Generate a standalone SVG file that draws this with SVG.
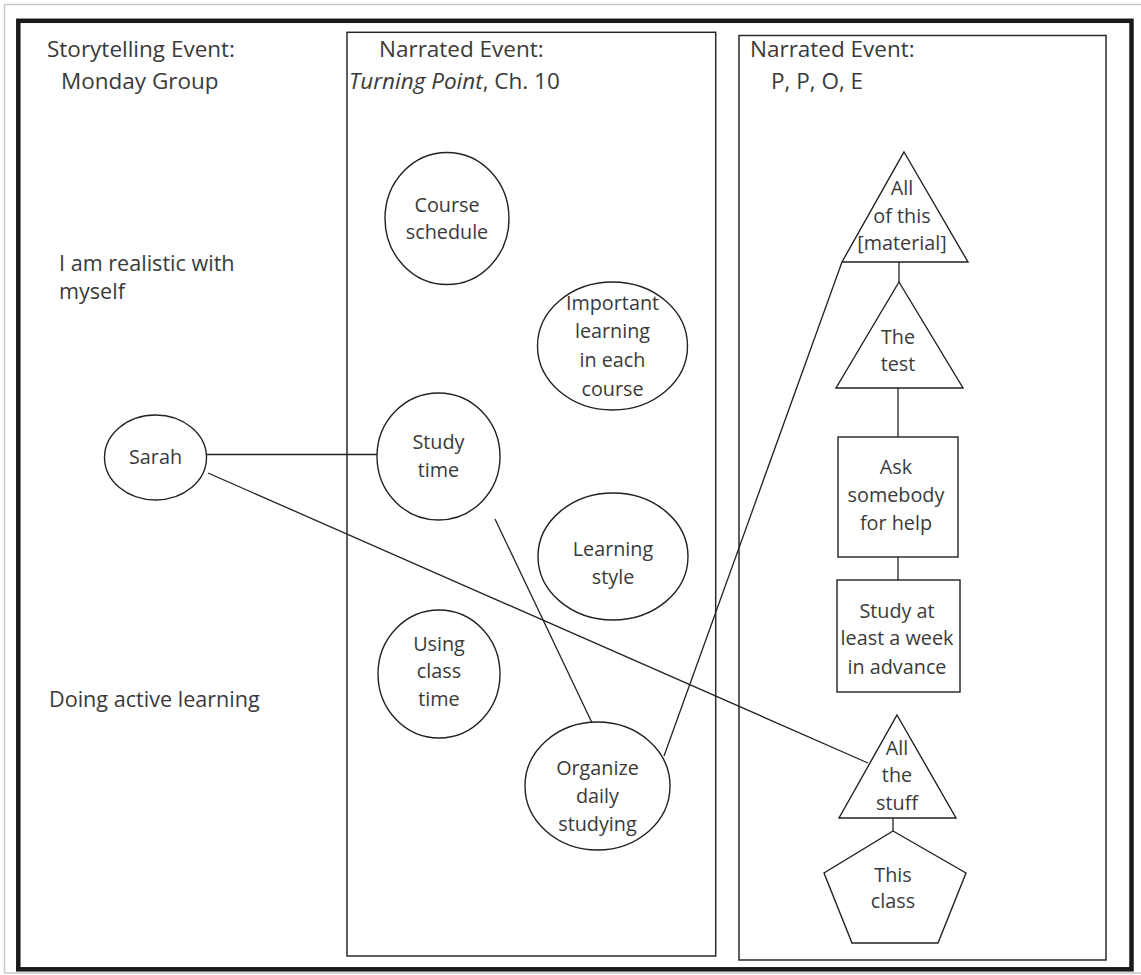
<svg xmlns="http://www.w3.org/2000/svg" width="1141" height="975" viewBox="0 0 1141 975">
  <style>
    .frame { fill: none; stroke: #1a1a1a; stroke-width: 4.5; }
    .outer { fill: none; stroke: #c8c8c8; stroke-width: 1.5; }
    .panel { fill: none; stroke: #2a2a2a; stroke-width: 1.5; }
    .shape { fill: #ffffff; stroke: #222222; stroke-width: 1.4; }
    .link { fill: none; stroke: #222222; stroke-width: 1.3; }
    .title { font-family: "Open Sans", "Noto Sans", sans-serif; font-size: 22.5px; fill: #3a3a3a; }
    .label { font-family: "Open Sans", "Noto Sans", sans-serif; font-size: 19.8px; fill: #3a3a3a; text-anchor: middle; }
    .note { font-family: "Open Sans", "Noto Sans", sans-serif; font-size: 21.6px; fill: #3a3a3a; }
  </style>

  <rect width="1141" height="975" fill="#ffffff"/>
  <rect class="outer" x="4.5" y="4.5" width="1150" height="968.5"/>
  <rect class="frame" x="18.3" y="20.8" width="1113.2" height="948.5"/>

  <!-- panels -->
  <g id="panel-storytelling">
    <text class="title" x="47" y="57">Storytelling Event:</text>
    <text class="title" x="61" y="89">Monday Group</text>
    <text class="note" x="59" y="271">I am realistic with</text>
    <text class="note" x="59" y="299">myself</text>
    <text class="note" x="49" y="707">Doing active learning</text>
  </g>
  <g id="panel-turning-point">
    <rect class="panel" x="347" y="32.3" width="368.7" height="923.7"/>
    <text class="title" x="379" y="57">Narrated Event:</text>
    <text class="title" x="349" y="89"><tspan font-style="italic">Turning Point</tspan>, Ch. 10</text>
  </g>
  <g id="panel-ppoe">
    <rect class="panel" x="739" y="35.5" width="367" height="924.5"/>
    <text class="title" x="750" y="57">Narrated Event:</text>
    <text class="title" x="771" y="89">P, P, O, E</text>
  </g>

  <!-- connectors -->
  <g id="connectors">
    <line class="link" x1="206" y1="454.5" x2="377" y2="454.5"/>
    <line class="link" x1="208" y1="473" x2="868" y2="763"/>
    <line class="link" x1="495" y1="519" x2="594" y2="727"/>
    <line class="link" x1="664" y1="756" x2="842" y2="262"/>
    <line class="link" x1="899" y1="262" x2="899" y2="282"/>
    <line class="link" x1="898" y1="388" x2="898" y2="437"/>
    <line class="link" x1="898" y1="557" x2="898" y2="580"/>
    <line class="link" x1="893" y1="818" x2="893" y2="831"/>
  </g>

  <!-- nodes -->
  <g id="node-sarah">
    <ellipse class="shape" cx="155.5" cy="457.5" rx="51" ry="42.5"/>
    <text class="label" x="155.5" y="464">Sarah</text>
  </g>
  <g id="node-course-schedule">
    <ellipse class="shape" cx="447" cy="218.5" rx="62" ry="66"/>
    <text class="label" x="447" y="212">Course</text>
    <text class="label" x="447" y="239">schedule</text>
  </g>
  <g id="node-important-learning">
    <ellipse class="shape" cx="612.5" cy="346" rx="75" ry="64"/>
    <text class="label" x="612.5" y="310">Important</text>
    <text class="label" x="612.5" y="338">learning</text>
    <text class="label" x="612.5" y="367">in each</text>
    <text class="label" x="612.5" y="396">course</text>
  </g>
  <g id="node-study-time">
    <ellipse class="shape" cx="438.5" cy="456.5" rx="61.5" ry="63.5"/>
    <text class="label" x="438.5" y="449">Study</text>
    <text class="label" x="438.5" y="477">time</text>
  </g>
  <g id="node-learning-style">
    <ellipse class="shape" cx="613" cy="556.5" rx="75" ry="63.5"/>
    <text class="label" x="613" y="556">Learning</text>
    <text class="label" x="613" y="584">style</text>
  </g>
  <g id="node-using-class-time">
    <ellipse class="shape" cx="439" cy="674" rx="61" ry="64"/>
    <text class="label" x="439" y="651">Using</text>
    <text class="label" x="439" y="678">class</text>
    <text class="label" x="439" y="706">time</text>
  </g>
  <g id="node-organize">
    <ellipse class="shape" cx="597.5" cy="786" rx="72.5" ry="64"/>
    <text class="label" x="597.5" y="775">Organize</text>
    <text class="label" x="597.5" y="803">daily</text>
    <text class="label" x="597.5" y="831">studying</text>
  </g>
  <g id="node-all-of-this">
    <polygon class="shape" points="904,152 968,262 842,262"/>
    <text class="label" x="902" y="195">All</text>
    <text class="label" x="902" y="223">of this</text>
    <text class="label" x="902" y="250">[material]</text>
  </g>
  <g id="node-the-test">
    <polygon class="shape" points="899,282 963,388 836,388"/>
    <text class="label" x="898" y="344">The</text>
    <text class="label" x="898" y="371">test</text>
  </g>
  <g id="node-ask-somebody">
    <rect class="shape" x="838" y="437" width="120" height="120"/>
    <text class="label" x="896" y="474">Ask</text>
    <text class="label" x="896" y="502">somebody</text>
    <text class="label" x="896" y="530">for help</text>
  </g>
  <g id="node-study-ahead">
    <rect class="shape" x="837" y="580" width="123" height="112"/>
    <text class="label" x="897" y="618">Study at</text>
    <text class="label" x="897" y="645">least a week</text>
    <text class="label" x="897" y="674">in advance</text>
  </g>
  <g id="node-all-the-stuff">
    <polygon class="shape" points="897,715 956,818 839,818"/>
    <text class="label" x="897" y="755">All</text>
    <text class="label" x="897" y="782">the</text>
    <text class="label" x="897" y="810">stuff</text>
  </g>
  <g id="node-this-class">
    <polygon class="shape" points="893,831 966,873 938,943 852,943 824,873"/>
    <text class="label" x="893" y="882">This</text>
    <text class="label" x="893" y="908">class</text>
  </g>
</svg>
